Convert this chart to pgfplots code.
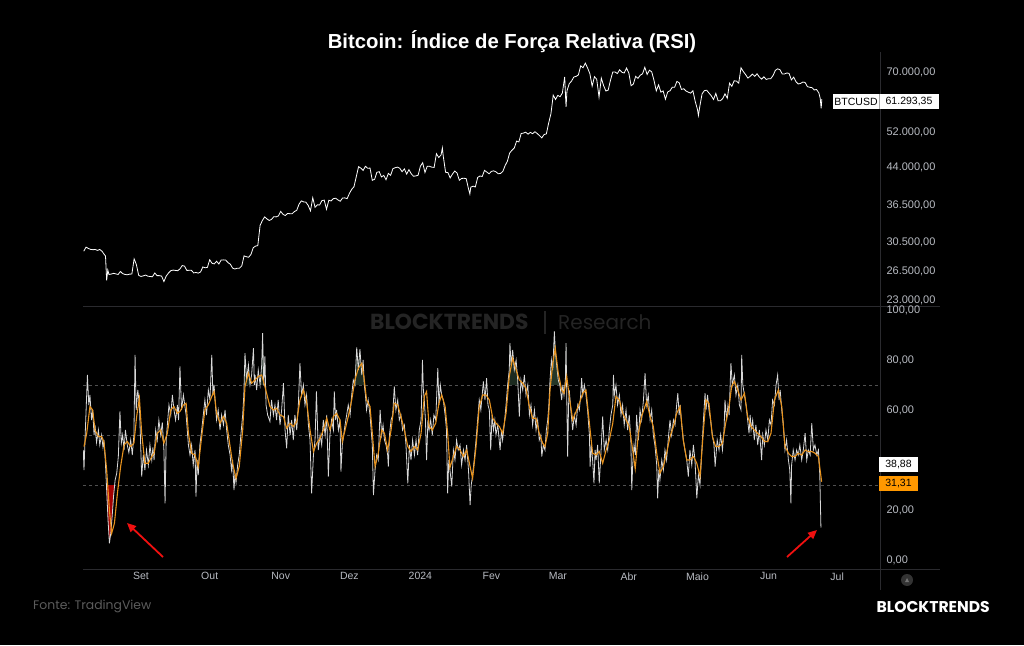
\documentclass[border=0pt]{standalone}
\usepackage{pgfplots}
\pgfplotsset{compat=1.18}
\usetikzlibrary{arrows.meta}
\usepackage{fontspec}
\setmainfont{Liberation Sans}
\newfontfamily\tvfont{Liberation Sans}
\newfontfamily\poppins{Poppins}
\definecolor{tick}{HTML}{B8BBC2}
\definecolor{sepc}{HTML}{2A2A2E}
\definecolor{dashc}{HTML}{505050}
\definecolor{rsiw}{HTML}{D8D8D8}
\definecolor{mac}{HTML}{E8931E}
\definecolor{orangebox}{HTML}{FF9800}
\definecolor{wm}{HTML}{242424}
\definecolor{srcc}{HTML}{5C5C5C}
\definecolor{arrowred}{HTML}{F01010}
\definecolor{greenfill}{HTML}{4E7A5A}
\begin{document}
\begin{tikzpicture}
\fill[black] (0pt,0pt) rectangle (1024pt,645pt);
% title
\node[font=\tvfont\bfseries\fontsize{20.3}{24}\selectfont, text=white] at (512pt,603pt) {Bitcoin: Índice de Força Relativa (RSI)};
% watermark
\node[anchor=west, font=\poppins\bfseries\fontsize{21.8}{26}\selectfont, text=wm, inner sep=0pt] at (370pt,323pt) {BLOCKTRENDS};
\draw[wm, line width=1.2pt] (545pt,334pt) -- (545pt,311pt);
\node[anchor=west, font=\poppins\fontsize{20}{24}\selectfont, text=wm, inner sep=0pt] at (558pt,323pt) {Research};
% separators
\draw[sepc, line width=1pt] (83pt,338pt) -- (940pt,338pt);
\draw[sepc, line width=1pt] (83pt,76pt) -- (940pt,76pt);
\draw[sepc, line width=1pt] (880pt,593pt) -- (880pt,55pt);

% ---------- price panel ----------
\begin{axis}[
  at={(83pt,338pt)}, anchor=south west, scale only axis,
  width=797pt, height=257pt,
  xmin=-25.33, xmax=322.7,
  ymode=log, ymin=22227, ymax=77940,
  axis line style={draw=none}, major tick length=0pt, minor tick length=0pt,
  xtick=\empty,
  ytick={23000,26500,30500,36500,44000,52000,70000},
  yticklabels={{23.000,00},{26.500,00},{30.500,00},{36.500,00},{44.000,00},{52.000,00},{70.000,00}},
  yticklabel pos=right,
  yticklabel style={font=\tvfont\fontsize{11}{13}\selectfont, text=tick, anchor=west, xshift=3pt},
  clip=true,
]
\addplot[white, line width=0.8pt] table {
-25 29180
-24 29770
-23 29580
-22 29440
-21 29400
-20 29420
-19 29300
-18 29430
-17 29170
-16 28700
-15.5 28500
-15 25300
-14.5 26620
-14 26050
-13 26100
-12 26190
-11 26120
-10 26050
-9 26430
-8 26160
-7 26050
-6 26010
-5 26090
-4 26100
-3 28100
-2.5 27720
-2 27300
-1 25930
0 25800
1 25870
2 25970
3 25830
4 25790
5 25760
6 26240
7 25900
8 25900
9 25840
10 25160
11 25840
12 26230
13 26530
14 26610
15 26570
16 26530
17 26760
18 27210
19 27130
20 26570
21 26580
22 26580
23 26250
24 26300
25 26220
26 26370
27 27020
28 26910
29 26970
30 27990
31 27510
32 27430
33 27790
34 27410
35 27950
36 27970
37 27940
38 27600
39 27390
40 26870
41 26750
42 26860
43 26860
44 27160
45 28520
46 28410
47 28330
48 28720
49 29680
50 29920
51 29990
52 33090
53 33900
54 34500
55 34160
56 33910
57 34090
58 34540
59 34500
60 34670
61 35440
62 34940
63 34730
64 35080
65 35050
66 35040
67 35420
68 35630
69 36700
70 37310
71 37130
72 37070
73 36490
74 35540
75 37880
76 36150
77 36600
78 36570
79 37360
80 37450
81 35810
82 37420
83 37290
84 37720
85 37800
86 37480
87 37240
88 37830
89 37860
90 37710
91 38690
92 39470
93 39980
94 41980
95 44080
96 43770
97 43290
98 44170
99 43730
100 43790
101 41240
102 41450
103 42890
104 43020
105 41930
106 42240
107 41360
108 42660
109 42260
110 43660
111 43860
112 43990
113 43740
114 43020
115 43610
116 42520
117 43440
118 42580
119 42070
120 42140
121 42280
122 44180
123 44940
124 42850
125 44180
126 44160
127 43970
128 43930
129 46970
130 46110
131 46630
131.6 48300
132 46340
133 42890
134 42850
135 41730
136 42510
137 43150
138 42740
139 41260
140 41620
141 41660
142 41580
143 39570
143.6 38600
144 39890
145 40080
146 39930
147 41820
148 42120
149 42030
150 43300
151 42940
152 42580
153 43080
154 43190
155 42990
156 42580
157 42660
158 43080
159 44320
160 45300
161 47150
162 47770
163 48290
164 49960
165 49740
166 51830
167 51940
168 52160
169 51660
170 52120
171 51780
172 52280
173 51840
174 51300
175 50730
176 51570
177 51730
178 54520
179 57090
180 62500
181 61200
182 62440
183 62030
184 63170
185 68330
185.6 59000
186 63800
187 66110
188 66930
189 68300
190 68500
191 69020
192 72120
193 71480
194 73100
195 71400
196 69400
197 65310
198 68390
199 67550
200 61910
201 67910
202 65490
203 63780
204 64060
205 67230
206 69960
207 69990
208 69450
209 70740
210 69890
211 69650
212 71330
213 69700
214 65450
215 65980
216 68510
217 67840
218 68900
219 69360
220 71620
221 69140
222 70590
223 70060
224 67200
225 63820
226 65740
227 63430
228 63810
229 61280
230 63510
231 63840
232 64990
233 64940
234 66840
235 66410
236 64280
237 64500
238 63760
239 63420
240 63120
241 63840
242 60640
243 58250
243.4 56600
244 59120
245 62890
246 63890
247 64030
248 63160
249 62330
250 61190
251 63050
252 60790
253 60830
254 61450
255 62900
256 61550
257 66270
258 65230
259 67050
260 66940
261 66280
262 71450
263 70140
264 69120
265 67930
266 68530
267 69280
268 68500
269 69390
270 68300
271 67590
272 68350
273 67490
274 67710
275 67750
276 68800
277 70550
278 71080
279 70760
280 69340
281 69310
282 69650
283 69500
284 67320
285 68240
286 66750
287 66010
288 66190
289 66640
290 66490
291 65140
292 64960
293 64830
294 64100
295 64260
296 63180
296.6 61500
297 58600
297.3 61293
};
\end{axis}

% ---------- RSI panel ----------
\begin{axis}[
  at={(83pt,76pt)}, anchor=south west, scale only axis,
  width=797pt, height=262pt,
  xmin=-25.33, xmax=322.7,
  ymin=-3.6, ymax=101.2,
  axis line style={draw=none}, major tick length=0pt, minor tick length=0pt,
  xtick={0,30,61,91,122,153,182,213,243,274,304},
  xticklabels={Set,Out,Nov,Dez,2024,Fev,Mar,Abr,Maio,Jun,Jul},
  xticklabel style={font=\tvfont\fontsize{10.5}{12}\selectfont, text=tick},
  ytick={0,20,60,80,100},
  yticklabels={{0,00},{20,00},{60,00},{80,00},{100,00}},
  yticklabel pos=right,
  yticklabel style={font=\tvfont\fontsize{11}{13}\selectfont, text=tick, anchor=west, xshift=3pt},
  clip=true,
]
\addplot[dashc, line width=0.8pt, dash pattern=on 3pt off 3pt] coordinates {(-25.33,70) (322.7,70)};
\addplot[dashc, line width=0.8pt, dash pattern=on 3pt off 3pt] coordinates {(-25.33,50) (322.7,50)};
\addplot[dashc, line width=0.8pt, dash pattern=on 3pt off 3pt] coordinates {(-25.33,30) (322.7,30)};
% oversold / overbought shading
\addplot[fill=red!75!black, draw=none, opacity=0.85] coordinates {(-15.1,30) (-15.0,28) (-14.4,16) (-13.8,6.7) (-13.2,10.7) (-12.6,17.4) (-12.0,25.4) (-11.5,30)} -- cycle;
\addplot[fill=greenfill, draw=none, opacity=0.35] coordinates {(45.02,70) (45.4,82.7) (46.1,72) (46.9,78) (47.6,70)} -- cycle;
\addplot[fill=greenfill, draw=none, opacity=0.35] coordinates {(52.0,70) (52.7,78) (53.1,90.7) (53.6,70)} -- cycle;
\addplot[fill=greenfill, draw=none, opacity=0.35] coordinates {(93.4,70) (94.2,85) (94.9,76) (95.6,84.3) (96.4,74) (97.0,80) (97.5,70)} -- cycle;
\addplot[fill=greenfill, draw=none, opacity=0.35] coordinates {(160.1,70) (160.8,76) (161.1,86.7) (161.6,78) (162.3,84) (163.0,76) (163.8,80) (164.5,72) (164.6,70)} -- cycle;
\addplot[fill=greenfill, draw=none, opacity=0.45] coordinates {(178.5,70) (178.6,72) (179.2,80) (179.8,76) (180.5,91.4) (180.9,84) (181.5,78) (182.2,72) (182.9,70)} -- cycle;
\addplot[fill=greenfill, draw=none, opacity=0.35] coordinates {(185.1,70) (185.3,72) (185.6,86.7) (185.85,70)} -- cycle;
\addplot[rsiw, line width=0.8pt] table {
-25.2 44
-24.9 36
-24.3 52
-23.4 74
-22.8 62
-22.3 66
-21.6 56
-21.1 60
-20.5 50
-20.1 54
-19.4 47
-18.6 52
-18.0 46
-17.2 50
-16.6 45
-16.2 48
-15.6 40
-15.0 28
-14.4 16
-13.8 6.7
-13.2 10.7
-12.6 17.4
-12.0 25.4
-11.3 32
-10.6 34.7
-9.9 41.4
-9.2 59.4
-8.6 46.7
-8.0 50
-7.4 44
-6.8 52
-6.0 46
-5.3 43
-4.5 48
-3.8 42
-3.1 50
-2.6 82
-2.1 60
-1.4 68
-0.7 62
0.3 33.4
1.0 42
1.7 36
2.4 44
3.2 38
3.9 46
4.7 40
5.2 45
5.7 40
6.4 52
7.1 48
7.8 56
8.6 50
9.3 55
10.0 44
10.5 22.7
11.0 48
11.5 54
12.2 62
13.0 58
13.7 66
14.4 60
15.1 56
15.9 62
16.4 56
17.0 77.4
17.7 60
18.5 66
19.1 62
19.7 58
20.2 52
20.7 46
21.4 42
22.1 46
22.8 38
23.6 44
24.0 25.4
24.5 40
25.0 34
25.7 46
26.5 52
27.2 58
27.9 64
28.6 58
29.4 68
30.1 64
30.9 82
31.4 66
31.9 70
32.5 62
33.0 56
33.7 60
34.5 52
35.2 58
36.0 54
36.7 60
37.4 52
38.1 46
38.9 42
39.5 36
40.0 40
40.6 28
41.0 34
41.5 31
42.2 38
42.9 42
43.6 50
44.4 58
44.9 66
45.4 82.7
46.1 72
46.9 78
47.6 70
48.3 74
49.1 84.7
49.5 70
49.8 74
50.5 68
51.2 76
52.0 70
52.7 78
53.1 90.7
53.6 70
54.1 81.4
54.6 62
55.3 58
56.3 55.4
57.0 64
57.8 58
58.5 62
59.2 56
59.9 64
60.7 54
61.4 60
62.2 70.7
62.9 52
63.6 44.7
64.3 58
65.1 50
65.8 56
66.5 48
67.2 58
68.0 52
68.7 62
69.4 78.7
70.1 66
70.9 70
71.6 62
72.3 66
73.1 54
73.8 48
74.5 26.7
75.3 42
76.0 48
76.6 67.4
77.4 44
78.2 50
78.9 46
79.6 56
80.4 50
81.1 58
81.8 33.4
82.5 50
83.2 56
84.0 52
84.4 67.4
85.0 56
85.4 60
86.2 52
86.9 56
87.3 35.4
87.9 46
88.5 50
89.1 54
89.8 58
90.5 62
91.3 58
92.0 66
92.7 72
93.4 70
94.2 85
94.9 76
95.6 84.3
96.4 74
97.0 80
97.5 70
98.0 66
98.5 60
99.2 64
100.0 58
100.5 52
101.0 46
101.5 26
102.2 36
102.9 42
103.6 40
104.4 60
105.1 50
105.7 54
106.3 48
107.0 46
107.7 42
108.0 37.4
108.5 50
109.2 56
109.9 58
110.6 69.4
111.3 60
112.1 64
112.8 56
113.5 58
114.2 52
115.0 54
115.7 46
116.5 30.7
117.2 46
117.9 40
118.6 48
119.4 42
120.1 48
120.8 42
121.5 52
122.3 56
122.9 80
123.3 68
123.7 64
124.2 56
124.7 40
125.3 56
125.8 52
126.5 56
127.2 50
127.9 58
128.7 56
129.6 76.7
130.1 62
130.7 70
131.3 66
132.0 64
132.8 58
133.4 52
133.9 26.7
134.4 40
134.9 36
135.7 29.4
136.4 44
137.1 40
137.8 48
138.5 44
139.3 46
140.0 38
140.8 44
141.5 40
142.2 46
143.0 36
143.7 22
144.2 30
144.8 34
145.5 40
146.3 48
147.0 56
147.7 64
148.4 60
149.5 71.4
150.2 64
150.9 72.7
151.5 62
152.1 60
152.7 44
153.3 58
153.9 52
154.5 56
155.0 50
155.8 54
156.8 44
157.4 52
157.9 48
158.6 54
159.4 62
160.1 70
160.8 76
161.1 86.7
161.6 78
162.3 84
163.0 76
163.8 80
164.5 72
165.2 57.4
165.9 72
166.7 68
167.4 74
168.1 66
168.9 70
169.6 58
170.3 62
171.0 54
171.8 60
172.5 52
173.2 56
173.9 48
174.6 50
175.0 41.4
175.7 46
176.4 44
177.0 52
177.6 56
178.1 62
178.6 72
179.2 80
179.8 76
180.5 91.4
180.9 84
181.5 78
182.2 72
182.9 70
183.7 64
184.2 70
184.7 66
185.3 72
185.6 86.7
186.0 60
186.3 41.4
186.7 62
187.0 68
187.7 60
188.5 52
189.2 58
190.0 54
190.7 62
191.4 60
192.0 66
192.4 72.7
192.9 66
193.6 70
194.3 66
195.0 60
195.8 50
196.1 37.4
196.6 46
197.2 40
197.8 30.7
198.3 44
198.7 40
199.4 46
200.1 30.7
200.8 42
201.6 57.4
202.3 44
203.1 48
203.8 44
204.5 52
205.2 58
206.0 62
206.3 74
206.7 66
207.4 70
208.1 62
208.9 66
209.6 58
210.3 62
211.0 54
211.8 60
212.5 52
213.2 58
213.9 48
214.3 28
214.7 38
215.3 46
215.9 42
216.4 58
217.2 48
217.9 60
218.6 56
219.4 64
220.1 74.7
220.8 62
221.5 66
222.3 56
223.0 60
223.7 50
224.4 46
225.2 38
225.6 24.7
226.1 36
226.6 32
227.4 40
228.1 36
228.8 44
229.5 40
230.2 48
231.0 56
231.7 50
232.5 56
233.2 54
233.9 62
234.4 66.7
235.0 58
235.4 62
236.1 54
236.8 48
237.5 44
238.3 40
239.0 33.4
239.7 44
240.5 38
241.2 46
241.9 40
242.7 24.7
243.4 34
244.1 30
244.8 42
245.6 56
246.3 66.7
246.7 60
247.4 66
248.0 60
248.7 56
249.5 50
250.2 46
250.7 37.4
251.6 48
252.4 44
253.1 50
253.9 44
254.6 52
255.0 64
255.7 56
256.3 62
256.8 58
257.6 78.7
258.2 70
259.1 74
259.8 66
260.6 70
261.3 62
262.0 60
262.3 82
262.8 70
263.5 66
264.2 62
264.9 56
265.5 50.7
266.0 58
266.4 52
267.1 56
267.8 48
268.5 54
269.3 46
270.0 52
270.7 44
271.0 40
271.5 50
272.2 46
272.9 52
273.7 48
274.4 56
275.1 54
275.8 64
276.6 62
277.3 70
278.0 74
278.6 64
279.1 68
279.8 60
280.5 54
281.2 44
281.9 48
282.7 40
283.3 36
283.8 22.7
284.1 38
284.8 44
285.6 40
286.3 44
287.0 42
287.7 46
288.5 40
289.2 44
290.0 50.7
290.7 40
291.4 44
292.2 42
292.9 54.7
293.6 44
294.3 46
295.1 42
295.8 44
296.4 34
296.9 13
};
\addplot[mac, line width=1.1pt] table {
-24.9 45.4
-23.7 50.7
-22.3 61.4
-21.1 60
-20.1 52
-18.6 49.4
-17.2 49.4
-16.2 47.4
-15.0 36
-13.8 20
-12.8 10.7
-11.6 14.7
-10.3 26.7
-8.9 37.4
-7.4 46
-6.0 47.4
-4.5 45.4
-3.1 46.7
-1.9 57.4
-0.7 64.7
0.3 50.7
1.7 38.7
3.2 38.7
4.7 41.4
5.7 42.7
7.1 50.7
8.6 52
10.0 46.7
11.5 50.7
13.0 60
14.4 61.4
15.9 58.7
17.0 59.4
18.5 62
19.7 62.7
20.7 50.7
22.1 42.7
23.6 42
25.0 37.4
26.5 49.4
27.9 60
29.4 62
30.9 65.4
31.9 67.4
33.0 58.7
34.5 54.7
36.0 57.4
37.4 54.7
38.9 45.4
40.0 38.7
41.5 32.7
42.9 37.4
44.4 52
45.4 69.4
46.9 74.7
48.3 70.7
49.8 72
51.2 73.4
52.7 74
54.1 69.4
56.3 61.4
57.8 60
59.2 60.7
60.7 58
62.2 57.4
63.6 52.7
65.1 54.7
66.5 53.4
68.0 55.4
69.4 64
70.9 68
72.3 63.4
73.8 52
75.3 43.4
76.7 46.7
78.2 48.7
79.6 52
81.1 56.7
82.5 52
84.0 57.4
85.4 58.7
86.9 56
87.9 47.4
89.1 52
90.5 57.4
92.0 64
93.4 72
94.9 76.7
96.4 78.7
97.5 72
98.5 64
100.0 61.4
101.0 50.7
102.2 37.4
103.6 42.7
105.1 52
106.3 50.7
107.7 44
109.2 52
110.6 62.7
112.1 62
113.5 57.4
115.0 52
116.5 45.4
117.9 43.4
119.4 45.4
120.8 44
122.3 50.7
123.7 65.4
124.7 67.4
125.8 53.4
127.2 52
128.7 54.7
130.1 62.7
131.3 66
132.8 61.4
133.9 50.7
134.9 37
136.4 41.4
137.8 45.4
139.3 44
140.8 41.4
142.2 44
143.7 37.4
144.8 32.7
146.3 45.4
147.7 61.4
149.2 66
150.7 66
152.1 64
153.6 56.7
155.0 54.7
156.5 53.4
157.9 50.7
159.4 58.7
160.8 73.4
162.3 80.7
163.8 76
165.2 72
166.7 70.7
168.1 68.7
169.6 61.4
171.0 56.7
172.5 56.7
173.9 50.7
175.4 46.7
176.4 45.4
177.6 50.7
178.6 68
179.8 78.7
180.9 84.7
182.2 74.7
183.7 68
184.7 66.7
185.9 73.4
187.0 65.4
188.5 56
190.0 59.4
191.4 62.7
192.9 66.7
194.3 68
195.8 54.7
197.2 42.7
198.7 42
200.1 43.4
201.6 38.7
203.1 44
204.5 48
206.0 54.7
207.4 65.4
208.9 64
210.3 58.7
211.8 56
213.2 53.4
214.7 44
215.8 36.5
217.2 50.7
218.6 57.4
220.8 63.4
222.3 57.4
223.7 53.4
225.2 42.7
226.6 34.7
228.1 37.4
229.5 42.7
231.0 49.4
232.5 53.4
233.9 58.7
235.4 61.4
236.8 48
238.3 40
239.7 40
241.2 41.4
242.7 38.7
244.1 33.4
245.6 52
246.7 64
248.0 62.7
249.5 49.4
250.9 45.4
252.4 45.4
253.9 46.7
255.3 54.7
256.8 61.4
257.9 69.4
259.1 71.4
260.6 68
262.0 64
263.5 66.7
264.9 57.4
266.4 53.4
267.8 52
269.3 50.7
270.7 49.4
272.2 47.4
273.7 47.4
275.1 50.7
276.6 64
278.3 68
279.8 61.4
281.2 45.4
282.7 42.7
284.1 41.4
285.6 41.4
287.0 42.7
288.5 42
290.0 44
291.4 43.4
292.9 43.4
294.3 42.7
295.8 41.4
297.2 31.3
};
\end{axis}

% price label
\fill[white] (833pt,551pt) rectangle (939pt,536pt);
\draw[black!35!white, line width=0.6pt] (879pt,551pt) -- (879pt,536pt);
\node[font=\tvfont\fontsize{10.5}{12}\selectfont, text=black] at (856pt,543.5pt) {BTCUSD};
\node[font=\tvfont\fontsize{10.5}{12}\selectfont, text=black] at (909pt,543.5pt) {61.293,35};
% RSI labels
\fill[white] (879pt,188pt) rectangle (918pt,173pt);
\node[font=\tvfont\fontsize{10.5}{12}\selectfont, text=black] at (898.5pt,180.5pt) {38,88};
\fill[orangebox] (879pt,169pt) rectangle (918pt,154pt);
\node[font=\tvfont\fontsize{10.5}{12}\selectfont, text=black] at (898.5pt,161.5pt) {31,31};
% small icon
\fill[black!80!white] (907pt,65pt) circle (6pt);
\fill[black!55!white] (905pt,63pt) -- (909pt,63pt) -- (907pt,67pt) -- cycle;
% arrows
\draw[arrowred, line width=1.8pt, -{Triangle[length=9pt,width=8pt]}] (163pt,88pt) -- (127pt,122pt);
\draw[arrowred, line width=1.8pt, -{Triangle[length=9pt,width=8pt]}] (787pt,88pt) -- (817pt,115pt);
% footer
\node[anchor=west, font=\poppins\fontsize{12.4}{15}\selectfont, text=srcc, inner sep=0pt] at (33pt,39pt) {Fonte: TradingView};
\node[anchor=east, font=\poppins\bfseries\fontsize{15.6}{18}\selectfont, text=white, inner sep=0pt] at (990pt,38pt) {BLOCKTRENDS};
\end{tikzpicture}
\end{document}
